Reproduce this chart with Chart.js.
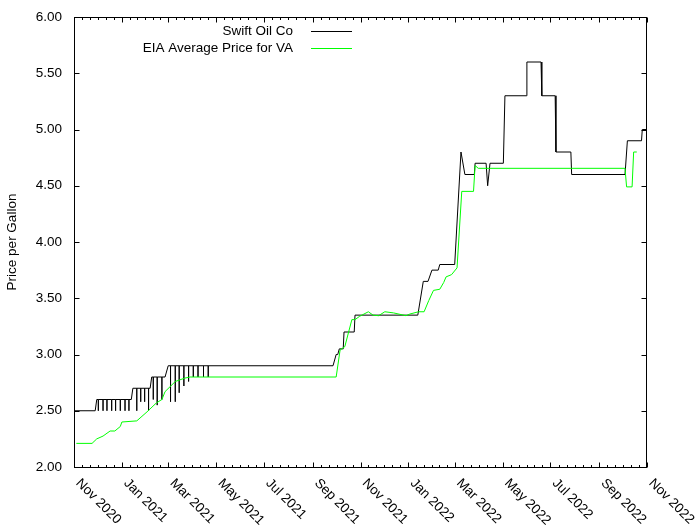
<!DOCTYPE html>
<html lang="en">
  <head>
    <meta charset="UTF-8" />
    <title>Swift Oil Co vs EIA Average Price for VA</title>
    <script src="https://cdn.jsdelivr.net/npm/chart.js@4.4.0/dist/chart.umd.min.js"></script>
    <style>
      body { margin: 0; background: #fff; }
    </style>
  </head>
  <body>
    <canvas id="myChart" width="700" height="525"></canvas>
    <script>
      // Swift Oil Co price history (repeated dates = same-day dip and recovery)
      const swiftDates = [
        "2020-11-01", "2020-11-28", "2020-11-30",
        "2020-12-02", "2020-12-02", "2020-12-02",
        "2020-12-08", "2020-12-08", "2020-12-08",
        "2020-12-13", "2020-12-13", "2020-12-13",
        "2020-12-19", "2020-12-19", "2020-12-19",
        "2020-12-24", "2020-12-24", "2020-12-24",
        "2020-12-30", "2020-12-30", "2020-12-30",
        "2021-01-05", "2021-01-05", "2021-01-05",
        "2021-01-10", "2021-01-10", "2021-01-10",
        "2021-01-13", "2021-01-15",
        "2021-01-20", "2021-01-20", "2021-01-20",
        "2021-01-25", "2021-01-25", "2021-01-25",
        "2021-01-30", "2021-01-30", "2021-01-30",
        "2021-02-04", "2021-02-04", "2021-02-04",
        "2021-02-06", "2021-02-08",
        "2021-02-10", "2021-02-10", "2021-02-10",
        "2021-02-15", "2021-02-15", "2021-02-15",
        "2021-02-21", "2021-02-21", "2021-02-21",
        "2021-02-25", "2021-03-01",
        "2021-03-04", "2021-03-04", "2021-03-04",
        "2021-03-10", "2021-03-10", "2021-03-10",
        "2021-03-15", "2021-03-15", "2021-03-15",
        "2021-03-21", "2021-03-21", "2021-03-21",
        "2021-03-27", "2021-03-27", "2021-03-27",
        "2021-04-02", "2021-04-02", "2021-04-02",
        "2021-04-08", "2021-04-08", "2021-04-08",
        "2021-04-15", "2021-04-15", "2021-04-15",
        "2021-04-21", "2021-04-21", "2021-04-21",
        "2021-09-27", "2021-10-01", "2021-10-03", "2021-10-05", "2021-10-10",
        "2021-10-11", "2021-10-24", "2021-10-25",
        "2022-01-13", "2022-01-20", "2022-01-26", "2022-01-31", "2022-02-08",
        "2022-02-10", "2022-03-01", "2022-03-09", "2022-03-14", "2022-03-26",
        "2022-03-27", "2022-04-10", "2022-04-12", "2022-04-15", "2022-05-02",
        "2022-05-04", "2022-05-31", "2022-06-01", "2022-06-19", "2022-06-20",
        "2022-07-07", "2022-07-08", "2022-07-27", "2022-07-28", "2022-10-04",
        "2022-10-07", "2022-10-25", "2022-10-26", "2022-10-31"
      ];
      const swiftPrices = [
        2.50, 2.50, 2.60,
        2.60, 2.50, 2.60,
        2.60, 2.50, 2.60,
        2.60, 2.50, 2.60,
        2.60, 2.50, 2.60,
        2.60, 2.50, 2.60,
        2.60, 2.50, 2.60,
        2.60, 2.50, 2.60,
        2.60, 2.50, 2.60,
        2.60, 2.70,
        2.70, 2.50, 2.70,
        2.70, 2.58, 2.70,
        2.70, 2.58, 2.70,
        2.70, 2.50, 2.70,
        2.70, 2.80,
        2.80, 2.60, 2.80,
        2.80, 2.55, 2.80,
        2.80, 2.60, 2.80,
        2.80, 2.90,
        2.90, 2.58, 2.90,
        2.90, 2.58, 2.90,
        2.90, 2.66, 2.90,
        2.90, 2.72, 2.90,
        2.90, 2.76, 2.90,
        2.90, 2.80, 2.90,
        2.90, 2.80, 2.90,
        2.90, 2.80, 2.90,
        2.90, 2.80, 2.90,
        2.90, 3.00, 3.00, 3.05, 3.05,
        3.20, 3.20, 3.35,
        3.35, 3.65, 3.65, 3.75, 3.75,
        3.80, 3.80, 4.80, 4.60, 4.60,
        4.70, 4.70, 4.50, 4.70, 4.70,
        5.30, 5.30, 5.60, 5.60, 5.30,
        5.30, 4.80, 4.80, 4.60, 4.60,
        4.90, 4.90, 5.00, 5.00
      ];

      // EIA average price for VA
      const eiaDates = [
        "2020-11-04", "2020-11-24", "2020-11-30", "2020-12-08", "2020-12-17",
        "2020-12-23", "2020-12-30", "2021-01-01", "2021-01-20", "2021-02-02",
        "2021-02-14", "2021-02-21", "2021-02-25", "2021-03-10", "2021-03-22",
        "2021-03-29", "2021-10-01", "2021-10-06", "2021-10-12", "2021-10-21",
        "2021-10-25", "2021-10-31", "2021-11-11", "2021-11-17", "2021-11-24",
        "2021-12-02", "2021-12-13", "2021-12-29", "2022-01-03", "2022-01-14",
        "2022-01-21", "2022-01-27", "2022-02-02", "2022-02-10", "2022-02-15",
        "2022-02-18", "2022-02-25", "2022-03-04", "2022-03-10", "2022-03-25",
        "2022-03-27", "2022-03-31", "2022-10-04", "2022-10-06", "2022-10-13",
        "2022-10-15", "2022-10-19"
      ];
      const eiaPrices = [
        2.21, 2.21, 2.25, 2.275, 2.32,
        2.32, 2.36, 2.40, 2.41, 2.49,
        2.57, 2.60, 2.67, 2.76, 2.79,
        2.80, 2.80, 3.04, 3.07, 3.31,
        3.31, 3.34, 3.38, 3.35, 3.345,
        3.38, 3.37, 3.345, 3.36, 3.38,
        3.38, 3.48, 3.57, 3.58, 3.64,
        3.69, 3.71, 3.77, 4.45, 4.45,
        4.68, 4.655, 4.655, 4.49, 4.49,
        4.80, 4.80
      ];

      const tickDates = [
        "2020-11-01", "2021-01-01", "2021-03-01", "2021-05-01", "2021-07-01",
        "2021-09-01", "2021-11-01", "2022-01-01", "2022-03-01", "2022-05-01",
        "2022-07-01", "2022-09-01", "2022-11-01"
      ];
      const tickLabels = [
        "Nov 2020", "Jan 2021", "Mar 2021", "May 2021", "Jul 2021",
        "Sep 2021", "Nov 2021", "Jan 2022", "Mar 2022", "May 2022",
        "Jul 2022", "Sep 2022", "Nov 2022"
      ];

      const startMs = Date.parse("2020-11-01T00:00:00Z");
      function dayOf(s) {
        return (Date.parse(s + "T00:00:00Z") - startMs) / 86400000;
      }
      const tickDays = tickDates.map(dayOf);

      const FONT = "'Liberation Sans', Arial, sans-serif";
      const FSIZE = 13.5;
      Chart.defaults.font.family = FONT;
      Chart.defaults.font.size = FSIZE;
      Chart.defaults.color = "#000";

      // gnuplot-like frame: inward ticks on all sides, tick labels, key
      const frame = {
        id: "frame",
        afterDatasetsDraw(chart) {
          const { ctx, chartArea: a, scales } = chart;
          const xs = scales.x, ys = scales.y;
          const L = Math.round(a.left) + 0.5;
          const R = Math.round(a.right) - 0.5;
          const T = Math.round(a.top) + 0.5;
          const B = Math.round(a.bottom) + 0.5;
          ctx.save();
          ctx.strokeStyle = "#000";
          ctx.lineWidth = 1;
          ctx.beginPath();
          ys.ticks.forEach((t) => {
            const py = Math.round(ys.getPixelForValue(t.value)) + 0.5;
            ctx.moveTo(L, py); ctx.lineTo(L + 5, py);
            ctx.moveTo(R, py); ctx.lineTo(R - 5, py);
          });
          tickDays.forEach((d, i) => {
            const px = Math.round(xs.getPixelForValue(d)) + 0.5;
            ctx.moveTo(px, B); ctx.lineTo(px, B - 5);
            ctx.moveTo(px, T); ctx.lineTo(px, T + 5);
            if (i < tickDays.length - 1) {
              const next = tickDays[i + 1];
              for (let k = 1; k < 6; k++) {
                const mx = Math.round(xs.getPixelForValue(d + ((next - d) * k) / 6)) + 0.5;
                ctx.moveTo(mx, B); ctx.lineTo(mx, B - 2.5);
                ctx.moveTo(mx, T); ctx.lineTo(mx, T + 2.5);
              }
            }
          });
          ctx.stroke();
          ctx.strokeRect(L, T, R - L, B - T);

          ctx.fillStyle = "#000";
          ctx.font = FSIZE + "px " + FONT;
          ctx.textBaseline = "middle";
          ctx.textAlign = "right";
          ys.ticks.forEach((t) => {
            ctx.fillText(t.value.toFixed(2), a.left - 12, ys.getPixelForValue(t.value));
          });

          ctx.textAlign = "left";
          tickDays.forEach((d, i) => {
            const px = xs.getPixelForValue(d);
            ctx.save();
            ctx.translate(px + 4, a.bottom + 14);
            ctx.rotate(Math.PI / 4);
            ctx.fillText(tickLabels[i], 0, 0);
            ctx.restore();
          });

          // key
          ctx.textAlign = "right";
          chart.data.datasets.forEach((ds, i) => {
            const ky = 31 + i * 17;
            ctx.fillText(ds.label, 293, ky);
            ctx.strokeStyle = ds.borderColor;
            ctx.beginPath();
            ctx.moveTo(311, ky + 0.5);
            ctx.lineTo(352, ky + 0.5);
            ctx.stroke();
          });
          ctx.restore();
        },
      };

      new Chart("myChart", {
        type: "line",
        data: {
          datasets: [
            {
              label: "Swift Oil Co",
              data: swiftDates.map((d, i) => ({ x: dayOf(d), y: swiftPrices[i] })),
              borderColor: "#000000",
              borderWidth: 1,
              pointRadius: 0,
              tension: 0,
              order: 2,
            },
            {
              label: "EIA Average Price for VA",
              data: eiaDates.map((d, i) => ({ x: dayOf(d), y: eiaPrices[i] })),
              borderColor: "#00ff00",
              borderWidth: 1,
              pointRadius: 0,
              tension: 0,
              order: 1,
            },
          ],
        },
        options: {
          responsive: false,
          animation: false,
          devicePixelRatio: 1,
          events: [],
          layout: { padding: { top: 17, right: 53, bottom: 0, left: 0 } },
          plugins: { legend: { display: false }, tooltip: { enabled: false } },
          scales: {
            x: {
              type: "linear",
              min: 0,
              max: 730,
              grid: { display: false },
              border: { display: false },
              ticks: { display: false },
              afterFit: (s) => { s.height = 58; },
            },
            y: {
              min: 2,
              max: 6,
              grid: { display: false },
              border: { display: false },
              ticks: { display: false, stepSize: 0.5 },
              title: {
                display: true,
                text: "Price per Gallon",
                padding: { top: 4, bottom: 0 },
              },
              afterFit: (s) => { s.width = 74; },
            },
          },
        },
        plugins: [frame],
      });
    </script>
  </body>
</html>
